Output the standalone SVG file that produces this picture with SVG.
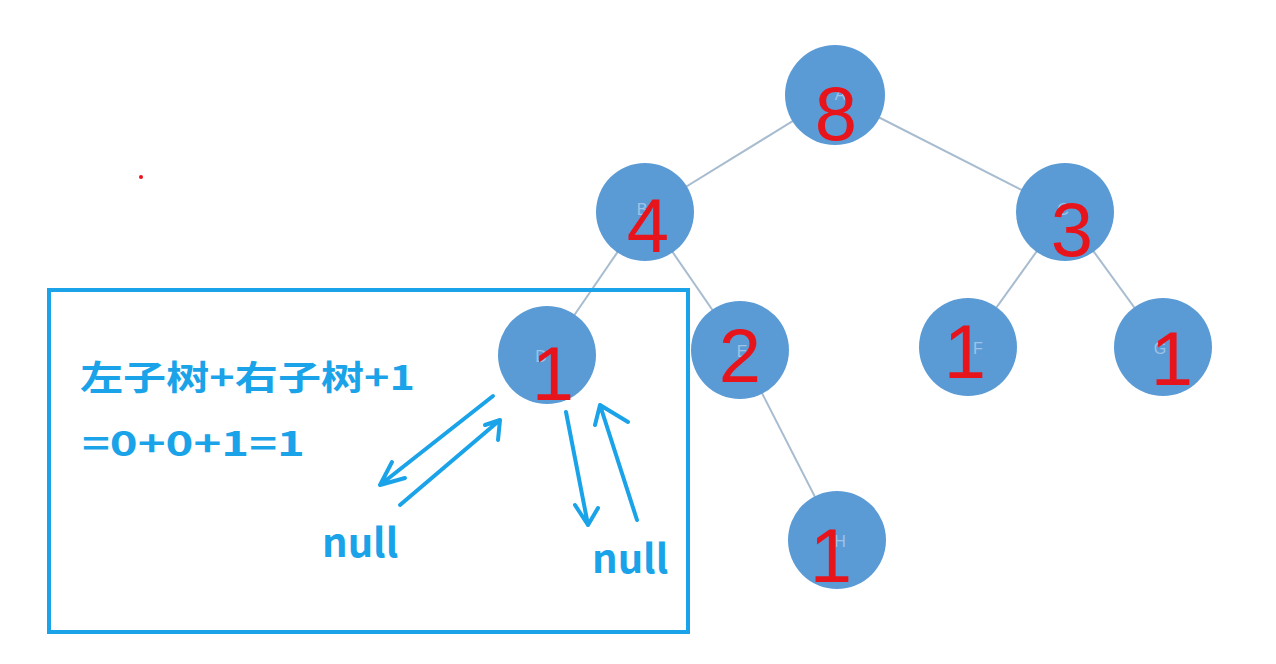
<svg xmlns="http://www.w3.org/2000/svg" width="1276" height="664" viewBox="0 0 1276 664">
<style>
.n{fill:#5b9bd5}
.l{font-family:"Liberation Sans",sans-serif;font-size:16px;fill:#9ec3e6;text-anchor:middle}
.r{font-family:"Liberation Sans Narrow","Liberation Sans",sans-serif;font-size:76px;fill:#e8141c;text-anchor:middle}
.b{font-family:"Noto Sans CJK SC","Liberation Sans",sans-serif;font-weight:bold;fill:#1aa3e8}
.h{fill:none;stroke:#1aa3e8;stroke-width:4;stroke-linecap:round;stroke-linejoin:round}
</style>
<rect width="1276" height="664" fill="#fff"/>
<g id="edges" stroke="#a8bcd0" stroke-width="2">
<line x1="835" y1="95" x2="645" y2="212"/>
<line x1="835" y1="95" x2="1065" y2="212"/>
<line x1="645" y1="212" x2="547" y2="355"/>
<line x1="645" y1="212" x2="740" y2="350"/>
<line x1="1065" y1="212" x2="968" y2="347"/>
<line x1="1065" y1="212" x2="1163" y2="347"/>
<line x1="740" y1="350" x2="837" y2="540"/>
</g>
<g id="A"><circle class="n" cx="835" cy="95" r="50"/><text class="l" x="840" y="100">A</text><text class="r" x="836" y="140">8</text></g>
<g id="B"><circle class="n" cx="645" cy="212" r="49"/><text class="l" x="642" y="215">B</text><text class="r" x="648" y="252">4</text></g>
<g id="C"><circle class="n" cx="1065" cy="212" r="49"/><text class="l" x="1063" y="215">C</text><text class="r" x="1072" y="256">3</text></g>
<g id="D"><circle class="n" cx="547" cy="355" r="49"/><text class="l" x="541" y="362">D</text><text class="r" x="553" y="400">1</text></g>
<g id="E"><circle class="n" cx="740" cy="350" r="49"/><text class="l" x="742" y="357">E</text><text class="r" x="740" y="382">2</text></g>
<g id="F"><circle class="n" cx="968" cy="347" r="49"/><text class="l" x="978" y="354">F</text><text class="r" x="965" y="378">1</text></g>
<g id="G"><circle class="n" cx="1163" cy="347" r="49"/><text class="l" x="1160" y="354">G</text><text class="r" x="1172" y="385">1</text></g>
<g id="H"><circle class="n" cx="837" cy="540" r="49"/><text class="l" x="840" y="547">H</text><text class="r" x="831" y="582">1</text></g>
<circle cx="141" cy="177" r="2" fill="#e8141c"/>
<g id="box">
<rect x="49" y="290" width="639" height="342" fill="none" stroke="#1aa3e8" stroke-width="4"/>
<text class="b" x="80" y="390" font-size="34" textLength="335" lengthAdjust="spacingAndGlyphs">左子树+右子树+1</text>
<text class="b" x="82" y="456" font-size="34" textLength="223" lengthAdjust="spacingAndGlyphs">=0+0+1=1</text>
<text class="b" x="322" y="557" font-size="40">null</text>
<text class="b" x="592" y="573" font-size="40">null</text>
<path class="h" d="M493 396 L380 485 M380 485 L405 478 M380 485 L392 462"/>
<path class="h" d="M400 505 L500 420 M500 420 L498 440 M500 420 L485 425"/>
<path class="h" d="M566 412 L588 525 M588 525 L575 505 M588 525 L598 508"/>
<path class="h" d="M637 520 L600 405 M600 405 L595 425 M600 405 L628 422"/>
</g>
</svg>
